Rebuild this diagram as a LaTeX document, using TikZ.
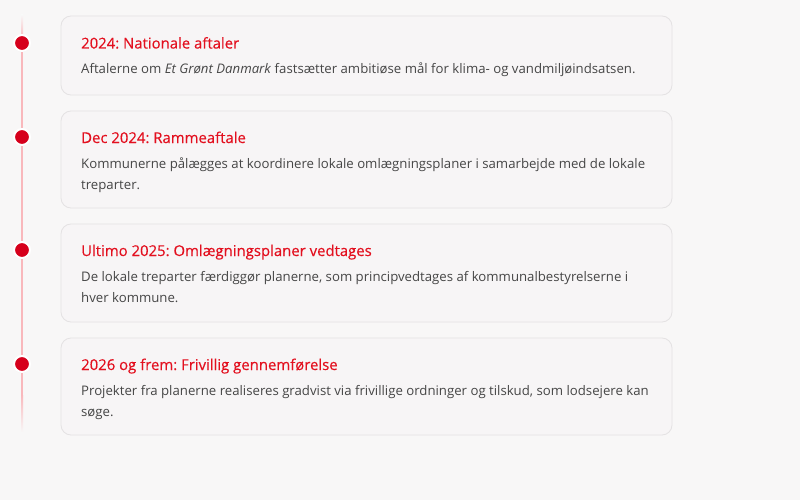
\documentclass[tikz,border=0pt]{standalone}
\usepackage{fontspec}
\setmainfont{Open Sans}
\usetikzlibrary{shadows}
\frenchspacing
\definecolor{bg}{HTML}{F8F7F7}
\definecolor{cardfill}{HTML}{F7F5F6}
\definecolor{cardborder}{HTML}{E4E2E3}
\definecolor{dotred}{HTML}{D6001C}
\definecolor{titlered}{HTML}{E3101F}
\definecolor{bodygray}{HTML}{464646}
\definecolor{linepink}{HTML}{F9B8BC}
\newcommand{\twolines}[2]{\vtop{\baselineskip=21pt\hbox{#1}\hbox{#2}}}
\tikzset{
  card/.style={draw=cardborder, line width=0.8pt, fill=cardfill, rounded corners=10pt},
  dot/.style={circle, fill=dotred, draw=white, line width=2pt, minimum size=16pt, inner sep=0pt,
     drop shadow={shadow xshift=0pt, shadow yshift=-1pt, opacity=0.15}},
  ttl/.style={anchor=base west, text=titlered, font=\fontsize{14.9}{17}\selectfont\addfontfeature{FakeBold=0.3}, inner sep=0pt},
  body/.style={anchor=base west, text=bodygray, font=\fontsize{13.2}{21}\selectfont, inner sep=0pt},
}
\begin{document}
\begin{tikzpicture}[x=1pt,y=-1pt]
\fill[bg] (0,0) rectangle (800,500);
\useasboundingbox (0,0) rectangle (800,500);
% timeline
\shade[top color=bg, bottom color=linepink] (21,15) rectangle (23,40);
\fill[linepink] (21,40) rectangle (23,395);
\shade[top color=linepink, bottom color=bg] (21,395) rectangle (23,432);
% cards
\draw[card] (61,16) rectangle (672,95);
\draw[card] (61,111) rectangle (672,208);
\draw[card] (61,224) rectangle (672,322);
\draw[card] (61,338) rectangle (672,435);
% dots
\node[dot] (d1) at (22,43) {};
\node[dot] (d2) at (22,137) {};
\node[dot] (d3) at (22,250) {};
\node[dot] (d4) at (22,364) {};
% texts
\node[ttl] (t1) at (81,48.5) {2024: Nationale aftaler};
\node[body] (b1) at (81,74) {Aftalerne om \textit{Et Grønt Danmark} fastsætter ambitiøse mål for klima- og vandmiljøindsatsen.};
\node[ttl] (t2) at (81,143) {Dec 2024: Rammeaftale};
\node[body] (b2) at (81,168) {\twolines{Kommunerne pålægges at koordinere lokale omlægningsplaner i samarbejde med de lokale}{treparter.}};
\node[ttl] (t3) at (81,256) {Ultimo 2025: Omlægningsplaner vedtages};
\node[body] (b3) at (81,281) {\twolines{De lokale treparter færdiggør planerne, som principvedtages af kommunalbestyrelserne i}{hver kommune.}};
\node[ttl] (t4) at (81,370) {2026 og frem: Frivillig gennemførelse};
\node[body] (b4) at (81,395) {\twolines{Projekter fra planerne realiseres gradvist via frivillige ordninger og tilskud, som lodsejere kan}{søge.}};
\end{tikzpicture}
\end{document}
